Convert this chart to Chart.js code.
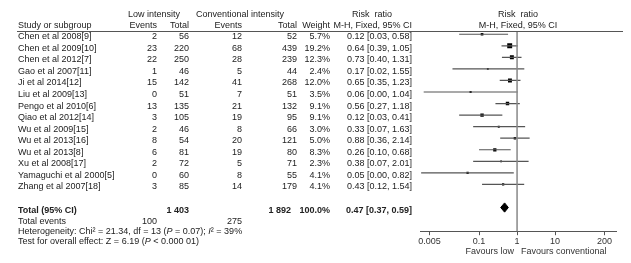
<!DOCTYPE html>
<html><head><meta charset="utf-8">
<script src="https://cdn.jsdelivr.net/npm/chart.js@4.4.0/dist/chart.umd.min.js"></script>
<style>html,body{margin:0;padding:0;background:#fff}#wrap{width:631px;height:263px;position:relative}</style>
</head><body><div id="wrap"><canvas id="forest"></canvas></div>
<script>
// Study data
const studies = ['Chen et al 2008[9]','Chen et al 2009[10]','Chen et al 2012[7]','Gao et al 2007[11]','Ji et al 2014[12]',
  'Liu et al 2009[13]','Pengo et al 2010[6]','Qiao et al 2012[14]','Wu et al 2009[15]','Wu et al 2013[16]',
  'Wu et al 2013[8]','Xu et al 2008[17]','Yamaguchi et al 2000[5]','Zhang et al 2007[18]'];
const lowEvents = [2,23,22,1,15,0,13,3,2,8,6,2,0,3];
const lowTotal = [56,220,250,46,142,51,135,105,46,54,81,72,60,85];
const convEvents = [12,68,28,5,41,7,21,19,8,20,19,5,8,14];
const convTotal = [52,439,239,44,268,51,132,95,66,121,80,71,55,179];
const weights = [5.7,19.2,12.3,2.4,12.0,3.5,9.1,9.1,3.0,5.0,8.3,2.3,4.1,4.1];
const rr = [0.12,0.64,0.73,0.17,0.65,0.06,0.56,0.12,0.33,0.88,0.26,0.38,0.05,0.43];
const ciLow = [0.03,0.39,0.40,0.02,0.35,0.0035,0.27,0.03,0.07,0.36,0.10,0.07,0.003,0.12];
const ciHigh = [0.58,1.05,1.31,1.55,1.23,1.04,1.18,0.41,1.63,2.14,0.68,2.01,0.82,1.54];
const pooled = [0.47,0.37,0.59];
const xTicks = [0.005,0.1,1,10,200];

const TOTAL_ROW = 15;
const FONT = '"Liberation Sans", Arial, sans-serif';
const FS = 9;

const datasets = [];
// null line
datasets.push({type:'line',data:[{x:1,y:-0.3},{x:1,y:17.1}],borderColor:'#888',borderWidth:1.5,pointRadius:0});
// confidence intervals
studies.forEach((s,i)=>{
  datasets.push({type:'line',data:[{x:ciLow[i],y:i},{x:ciHigh[i],y:i}],borderColor:'#555',borderWidth:1.2,pointRadius:0});
});
// study squares
datasets.push({type:'scatter',data:rr.map((v,i)=>({x:v,y:i})),pointStyle:'rect',
  pointRadius:weights.map(w=>Math.max(1.3,3.5*Math.sqrt(w/19.2))),
  backgroundColor:'#000',borderWidth:0});
// pooled diamond
datasets.push({type:'line',data:[{x:pooled[1],y:TOTAL_ROW},{x:pooled[0],y:TOTAL_ROW-0.4},{x:pooled[2],y:TOTAL_ROW},{x:pooled[0],y:TOTAL_ROW+0.4},{x:pooled[1],y:TOTAL_ROW}],
  borderColor:'#000',borderWidth:1,backgroundColor:'#000',fill:'shape',pointRadius:0,tension:0});

function txt(ctx,s,x,y,align,bold){
  ctx.font=(bold?'bold ':'')+FS+'px '+FONT;
  ctx.textAlign=align||'left';
  ctx.fillText(s,x,y);
}
function segs(ctx,parts,x,y){
  ctx.textAlign='left';
  parts.forEach(p=>{
    ctx.font=(p[1]?'italic ':'')+FS+'px '+FONT;
    ctx.fillText(p[0],x,y);
    x+=ctx.measureText(p[0]).width;
  });
}

const tablePlugin={
  id:'table',
  afterDraw(chart){
    const ctx=chart.ctx, ys=chart.scales.y, xs=chart.scales.x;
    ctx.save();
    ctx.fillStyle='#222';
    ctx.textBaseline='middle';
    // headers
    txt(ctx,'Low intensity',154,15,'center');
    txt(ctx,'Conventional intensity',196,15,'left');
    txt(ctx,'Risk  ratio',372,15,'center');
    txt(ctx,'Risk  ratio',xs.getPixelForValue(1)+1,15,'center');
    txt(ctx,'Study or subgroup',18,26,'left');
    txt(ctx,'Events',157,26,'right');
    txt(ctx,'Total',189,26,'right');
    txt(ctx,'Events',242,26,'right');
    txt(ctx,'Total',297,26,'right');
    txt(ctx,'Weight',330,26,'right');
    txt(ctx,'M-H, Fixed, 95% CI',412,26,'right');
    txt(ctx,'M-H, Fixed, 95% CI',xs.getPixelForValue(1)+1,26,'center');
    ctx.strokeStyle='#555';ctx.lineWidth=1;
    ctx.beginPath();ctx.moveTo(17,31.5);ctx.lineTo(623,31.5);ctx.stroke();
    // study rows
    studies.forEach((s,i)=>{
      const y=ys.getPixelForValue(i)+2.5;
      txt(ctx,s,18,y,'left');
      txt(ctx,String(lowEvents[i]),157,y,'right');
      txt(ctx,String(lowTotal[i]),189,y,'right');
      txt(ctx,String(convEvents[i]),242,y,'right');
      txt(ctx,String(convTotal[i]),297,y,'right');
      txt(ctx,weights[i].toFixed(1)+'%',330,y,'right');
      txt(ctx,rr[i].toFixed(2)+' ['+ciLow[i].toFixed(2)+', '+ciHigh[i].toFixed(2)+']',412,y,'right');
    });
    // totals
    let y=ys.getPixelForValue(TOTAL_ROW)+2.5;
    txt(ctx,'Total (95% CI)',18,y,'left',true);
    txt(ctx,'1 403',189,y,'right',true);
    txt(ctx,'1 892',291,y,'right',true);
    txt(ctx,'100.0%',330,y,'right',true);
    txt(ctx,pooled[0].toFixed(2)+' ['+pooled[1].toFixed(2)+', '+pooled[2].toFixed(2)+']',412,y,'right',true);
    y=ys.getPixelForValue(16)+2.5;
    txt(ctx,'Total events',18,y,'left');
    txt(ctx,'100',157,y,'right');
    txt(ctx,'275',242,y,'right');
    y=ys.getPixelForValue(16.85)+2.5;
    segs(ctx,[['Heterogeneity: Chi² = 21.34, df = 13 ('],['P',1],[' = 0.07); '],['I',1],['² = 39%']],18,y);
    y=ys.getPixelForValue(17.7)+2.5;
    segs(ctx,[['Test for overall effect: Z = 6.19 ('],['P',1],[' < 0.000 01)']],18,y);
    // favours labels
    const x1=xs.getPixelForValue(1);
    ctx.fillStyle='#333';
    txt(ctx,'Favours low',x1-3,252,'right');
    txt(ctx,'Favours conventional',x1+4,252,'left');
    ctx.restore();
  }
};

new Chart(document.getElementById('forest'),{
  data:{datasets},
  options:{
    responsive:true,maintainAspectRatio:false,animation:false,
    layout:{padding:{left:420,right:15,top:31,bottom:15}},
    plugins:{legend:{display:false},tooltip:{enabled:false}},
    scales:{
      x:{type:'logarithmic',min:0.0028,max:400,
        afterBuildTicks:(s)=>{s.ticks=xTicks.map(v=>({value:v}));},
        ticks:{callback:(v)=>String(v),autoSkip:false,maxRotation:0,padding:1,color:'#333',font:{size:FS,family:FONT}},
        grid:{drawOnChartArea:false,drawTicks:true,tickLength:4,color:'#555'},
        border:{display:true,color:'#555'}},
      y:{type:'linear',reverse:true,min:-0.28,max:17.05,display:false}
    }
  },
  plugins:[tablePlugin]
});
</script>
</body></html>
